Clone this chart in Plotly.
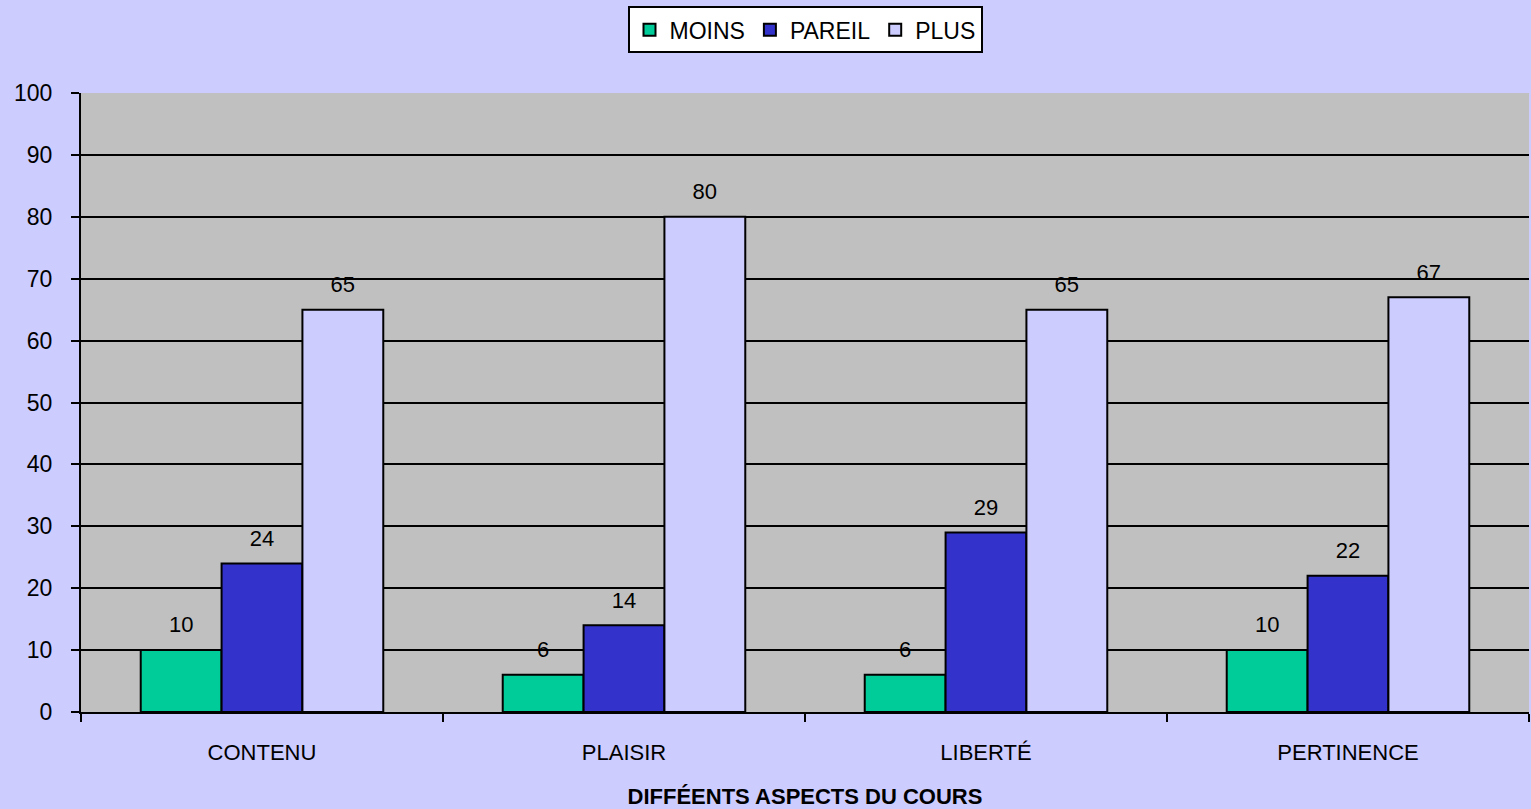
import plotly.graph_objects as go

categories = ["CONTENU", "PLAISIR", "LIBERTÉ", "PERTINENCE"]
moins = [10, 6, 6, 10]
pareil = [24, 14, 29, 22]
plus = [65, 80, 65, 67]
series_names = ["MOINS", "PAREIL", "PLUS"]
colors = ["#00CC99", "#3333CC", "#CCCCFF"]
x_title = "DIFFÉENTS ASPECTS DU COURS"

FONT = "Liberation Sans, Arial, sans-serif"
fig = go.Figure()
for name, vals, col in zip(series_names, [moins, pareil, plus], colors):
    fig.add_trace(go.Bar(
        x=categories, y=vals, name=name, offsetgroup=name,
        marker=dict(color=col, line=dict(color="black", width=2)),
    ))
for name, vals in zip(series_names, [moins, pareil, plus]):
    fig.add_trace(go.Scatter(
        x=categories, y=vals, mode="markers+text", offsetgroup=name,
        text=[str(v) for v in vals], textposition="top center",
        textfont=dict(family=FONT, size=22, color="black"),
        marker=dict(size=18, color="rgba(0,0,0,0)"),
        showlegend=False, hoverinfo="skip", cliponaxis=False,
    ))

fig.update_layout(
    width=1531, height=809,
    margin=dict(l=81, r=2, t=93, b=97),
    paper_bgcolor="#CCCCFF", plot_bgcolor="#C0C0C0",
    barmode="group", bargap=0.33, bargroupgap=0,
    scattermode="group", scattergap=0.33,
    font=dict(family=FONT, size=22, color="black"),
    showlegend=True,
    legend=dict(
        orientation="h", x=0.5, xanchor="center", y=1.14, yanchor="top",
        bgcolor="white", bordercolor="black", borderwidth=2,
        font=dict(size=23), itemwidth=30, tracegroupgap=0,
    ),
    xaxis=dict(
        showline=True, linecolor="black", linewidth=2,
        ticks="outside", tickson="boundaries", ticklen=8, tickwidth=2, tickcolor="black",
        ticklabelstandoff=20,
        title=dict(text="<b>" + x_title + "</b>", font=dict(size=22), standoff=33),
        showgrid=False, automargin=False,
    ),
    yaxis=dict(
        range=[0, 100], dtick=10,
        showline=True, linecolor="black", linewidth=2,
        ticks="outside", ticklen=8, tickwidth=2, tickcolor="black",
        ticklabelstandoff=14, tickfont=dict(size=23),
        showgrid=True, gridcolor="black", gridwidth=2,
        zeroline=False, automargin=False,
    ),
)

fig.write_html(
    "out.html",
    config={"displayModeBar": False},
    post_script="document.body.style.margin='0';document.body.style.overflow='hidden';",
)
